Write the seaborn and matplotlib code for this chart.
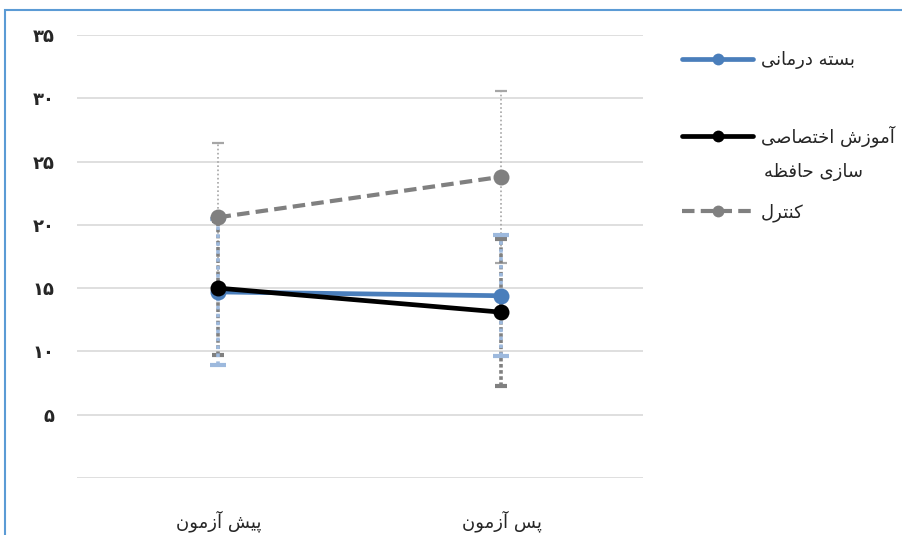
import pandas as pd
import matplotlib
matplotlib.use("Agg")
import matplotlib.pyplot as plt
from matplotlib.lines import Line2D
from matplotlib.patches import Rectangle
import seaborn as sns

# --- data ---
times = ["پیش آزمون", "پس آزمون"]
groups = ["بسته درمانی", "آموزش اختصاصی سازی حافظه", "کنترل"]
mean_package = [14.7, 14.4]
mean_memory = [15.0, 13.1]
mean_control = [20.6, 23.8]
sd_package = [5.8, 4.8]
sd_memory = [5.3, 5.8]
sd_control = [5.9, 6.8]
y_ticks = [0, 5, 10, 15, 20, 25, 30, 35]
y_tick_labels = ["", "۵", "۱۰", "۱۵", "۲۰", "۲۵", "۳۰", "۳۵"]

# matplotlib has no arabic shaping, so map letters to presentation forms
# (isolated, final, initial, medial) and reverse for right-to-left display
FORMS = {
    "ا": ("\uFE8D", "\uFE8E", None, None),
    "آ": ("\uFE81", "\uFE82", None, None),
    "ب": ("\uFE8F", "\uFE90", "\uFE91", "\uFE92"),
    "پ": ("\uFB56", "\uFB57", "\uFB58", "\uFB59"),
    "ت": ("\uFE95", "\uFE96", "\uFE97", "\uFE98"),
    "ح": ("\uFEA1", "\uFEA2", "\uFEA3", "\uFEA4"),
    "خ": ("\uFEA5", "\uFEA6", "\uFEA7", "\uFEA8"),
    "د": ("\uFEA9", "\uFEAA", None, None),
    "ر": ("\uFEAD", "\uFEAE", None, None),
    "ز": ("\uFEAF", "\uFEB0", None, None),
    "س": ("\uFEB1", "\uFEB2", "\uFEB3", "\uFEB4"),
    "ش": ("\uFEB5", "\uFEB6", "\uFEB7", "\uFEB8"),
    "ص": ("\uFEB9", "\uFEBA", "\uFEBB", "\uFEBC"),
    "ظ": ("\uFEC5", "\uFEC6", "\uFEC7", "\uFEC8"),
    "ف": ("\uFED1", "\uFED2", "\uFED3", "\uFED4"),
    "ک": ("\uFB8E", "\uFB8F", "\uFB90", "\uFB91"),
    "ل": ("\uFEDD", "\uFEDE", "\uFEDF", "\uFEE0"),
    "م": ("\uFEE1", "\uFEE2", "\uFEE3", "\uFEE4"),
    "ن": ("\uFEE5", "\uFEE6", "\uFEE7", "\uFEE8"),
    "ه": ("\uFEE9", "\uFEEA", "\uFEEB", "\uFEEC"),
    "و": ("\uFEED", "\uFEEE", None, None),
    "ی": ("\uFBFC", "\uFBFD", "\uFBFE", "\uFBFF"),
}


def fa(text):
    out = []
    for i, c in enumerate(text):
        if c not in FORMS:
            out.append(c)
            continue
        iso, fin, ini, med = FORMS[c]
        prev = text[i - 1] if i > 0 else None
        nxt = text[i + 1] if i + 1 < len(text) else None
        j_prev = prev in FORMS and FORMS[prev][2] is not None
        j_next = nxt in FORMS and ini is not None
        if j_prev and j_next:
            out.append(med)
        elif j_prev:
            out.append(fin)
        elif j_next:
            out.append(ini)
        else:
            out.append(iso)
    return "".join(reversed(out))


sns.set_theme(style="white")
plt.rcParams["font.family"] = ["DejaVu Sans"]

fig = plt.figure(figsize=(9.02, 5.35), dpi=100)
ax = fig.add_axes([77 / 902, 57 / 535, 566 / 902, 443 / 535])

colors = ["#4A7EBB", "#000000", "#808080"]
line_styles = ["-", "-", (0, (3, 1.5))]

df = pd.DataFrame({
    "time": times * 3,
    "group": [g for g in groups for _ in times],
    "mean": mean_package + mean_memory + mean_control,
})

# error bars (SD) underneath the lines: control thin dotted, memory gray squares,
# package light-blue squares drawn on top so the two interleave
err_specs = [
    (sd_control, mean_control, "#A6A6A6", 1.2, (0, (1, 1.5)), 4),
    (sd_memory, mean_memory, "#808080", 2.6, (0, (1, 0.7)), 4),
    (sd_package, mean_package, "#9DB9DD", 2.6, (0, (1, 1.2)), 6),
]
for s, m, ec, ew, es, cs in err_specs:
    eb = ax.errorbar([0, 1], m, yerr=s, fmt="none", ecolor=ec, elinewidth=ew,
                     capsize=cs, capthick=ew + 0.4, zorder=2)
    eb[2][0].set_linestyle(es)

# black drawn last so its marker sits over the blue one at pre-test
for g, c, ls in zip([groups[2], groups[0], groups[1]], [colors[2], colors[0], colors[1]],
                    [line_styles[2], line_styles[0], line_styles[1]]):
    sub = df[df["group"] == g]
    sns.lineplot(data=sub, x="time", y="mean", color=c, linewidth=3.4 if ls == "-" else 3.0,
                 linestyle=ls, marker="o", markersize=11.5, markeredgewidth=0,
                 sort=False, ax=ax, legend=False, zorder=3)

ax.set_xlim(-0.5, 1.5)
ax.set_ylim(0, 35)
ax.set_yticks(y_ticks)
ax.set_yticklabels(y_tick_labels, fontsize=13, fontweight="bold")
ax.set_xticks([0, 1])
ax.set_xticklabels([fa(t) for t in times], fontsize=13)
ax.tick_params(axis="y", length=0, pad=16)
ax.tick_params(axis="x", length=0, pad=23)
ax.set_xlabel("")
ax.set_ylabel("")
ax.grid(axis="y", color="#D9D9D9", linewidth=1.2)
ax.grid(axis="x", visible=False)
for sp in ax.spines.values():
    sp.set_visible(False)

# legend, outside on the right; the long label wraps to a second line
handles = [Line2D([], [], color=c, linestyle=ls, linewidth=3.4 if ls == "-" else 3.0,
                  marker="o", markersize=8.5, markeredgewidth=0)
           for c, ls in zip(colors, line_styles)]
labels = [fa("بسته درمانی"), fa("آموزش اختصاصی"), fa("کنترل")]
fig.legend(handles, labels, loc="upper left", bbox_to_anchor=(682 / 902, 1 - 51 / 535),
           frameon=False, fontsize=13, handlelength=3.95, handletextpad=0.4,
           labelspacing=3.12, borderpad=0, borderaxespad=0)
fig.text(764 / 902, 1 - 172 / 535, fa("سازی حافظه"), fontsize=13, ha="left", va="center")

# thin blue chart frame (only top and left edges fall inside the image)
fig.add_artist(Rectangle((5 / 902, -0.1), 1.2, 1.1 - 10 / 535, transform=fig.transFigure,
                         fill=False, edgecolor="#5B9BD5", linewidth=1.5))

fig.savefig("out.png", dpi=100)
